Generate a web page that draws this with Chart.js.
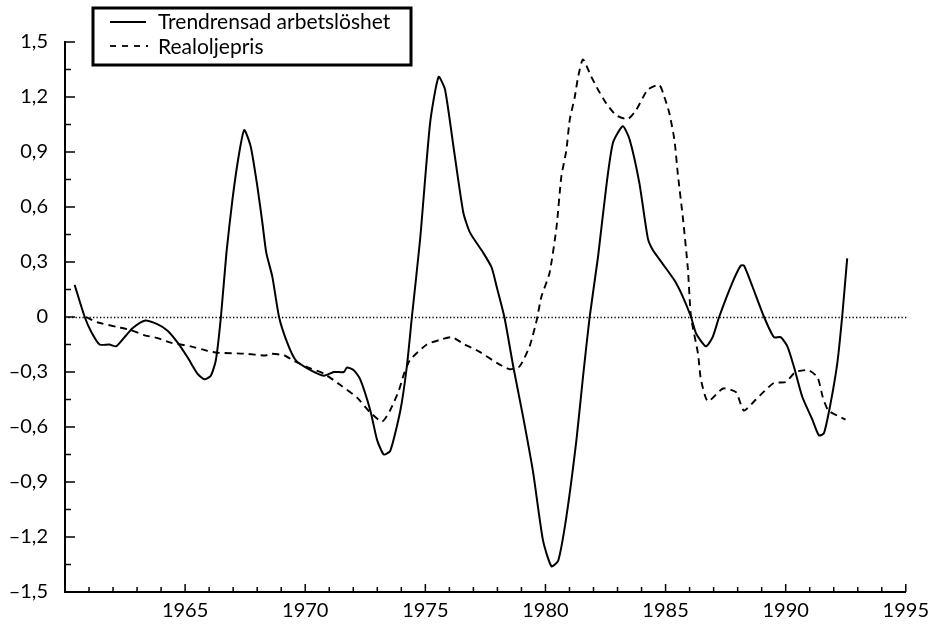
<!DOCTYPE html>
<html>
<head>
<meta charset="utf-8">
<script src="https://cdn.jsdelivr.net/npm/chart.js@4/dist/chart.umd.min.js"></script>
<style>
  html, body { margin: 0; padding: 0; background: #fff; }
  #wrap { width: 936px; height: 632px; }
</style>
</head>
<body>
<div id="wrap"><canvas id="chart" width="936" height="632"></canvas></div>
<script>
// Trendrensad arbetslöshet (solid)
var unempYears = [1960.40, 1960.82, 1961.09, 1961.44, 1961.85, 1962.13, 1962.48, 1962.82, 1963.31, 1963.86,
  1964.27, 1964.69, 1965.10, 1965.52, 1965.80, 1966.07, 1966.28, 1966.49, 1966.72, 1966.97,
  1967.22, 1967.46, 1967.73, 1968.01, 1968.22, 1968.38, 1968.63, 1968.91, 1969.25, 1969.60,
  1970.22, 1970.78, 1971.19, 1971.61, 1971.74, 1972.02, 1972.29, 1972.71, 1972.99, 1973.27,
  1973.54, 1973.96, 1974.23, 1974.44, 1974.78, 1975.20, 1975.55, 1975.82, 1976.17, 1976.58,
  1976.86, 1977.41, 1977.76, 1977.97, 1978.29, 1978.66, 1979.07, 1979.49, 1979.90, 1980.25,
  1980.53, 1980.87, 1981.29, 1981.56, 1981.84, 1982.19, 1982.53, 1982.81, 1983.22, 1983.50,
  1983.91, 1984.26, 1984.47, 1984.88, 1985.37, 1985.72, 1986.06, 1986.27, 1986.68, 1986.96,
  1987.23, 1987.79, 1988.13, 1988.27, 1988.62, 1989.10, 1989.51, 1989.79, 1990.07, 1990.34,
  1990.69, 1991.11, 1991.38, 1991.59, 1991.87, 1992.15, 1992.35, 1992.56];
var unempValues = [0.175, 0.00, -0.08, -0.15, -0.15, -0.16, -0.11, -0.06, -0.02, -0.04,
  -0.075, -0.14, -0.22, -0.31, -0.34, -0.32, -0.235, 0.00, 0.35, 0.64,
  0.87, 1.02, 0.93, 0.71, 0.51, 0.35, 0.22, 0.00, -0.14, -0.235,
  -0.29, -0.32, -0.30, -0.30, -0.275, -0.29, -0.34, -0.51, -0.67, -0.75,
  -0.73, -0.51, -0.27, 0.00, 0.42, 1.06, 1.31, 1.24, 0.93, 0.57,
  0.46, 0.35, 0.27, 0.165, 0.00, -0.27, -0.545, -0.85, -1.22, -1.36,
  -1.33, -1.09, -0.67, -0.33, 0.00, 0.33, 0.71, 0.95, 1.04, 0.97,
  0.73, 0.43, 0.365, 0.29, 0.20, 0.11, 0.00, -0.09, -0.16, -0.11,
  0.00, 0.19, 0.28, 0.28, 0.165, 0.00, -0.11, -0.11, -0.16, -0.27,
  -0.435, -0.56, -0.645, -0.635, -0.47, -0.25, 0.00, 0.32];

// Realoljepris (dashed)
var oilYears = [1960.87, 1961.37, 1962.20, 1962.70, 1963.32, 1963.86, 1964.40, 1965.23, 1965.93, 1966.35,
  1967.47, 1968.34, 1968.55, 1969.13, 1969.54, 1970.21, 1970.79, 1971.45, 1972.16, 1972.70,
  1973.20, 1973.53, 1973.90, 1974.11, 1974.36, 1975.06, 1975.60, 1976.10, 1976.64, 1977.26,
  1977.97, 1978.51, 1978.92, 1979.34, 1979.63, 1979.83, 1980.17, 1980.46, 1980.66, 1980.87,
  1981.01, 1981.22, 1981.36, 1981.56, 1981.91, 1982.19, 1982.53, 1982.95, 1983.43, 1983.78,
  1984.26, 1984.74, 1984.95, 1985.16, 1985.37, 1985.51, 1985.73, 1985.93, 1986.06, 1986.35,
  1986.47, 1986.76, 1987.39, 1987.93, 1988.26, 1988.76, 1989.50, 1990.00, 1990.41, 1990.95,
  1991.33, 1991.54, 1991.78, 1992.49];
var oilValues = [0.00, -0.03, -0.055, -0.07, -0.10, -0.115, -0.14, -0.16, -0.185, -0.195,
  -0.20, -0.21, -0.20, -0.21, -0.24, -0.28, -0.31, -0.37, -0.44, -0.52,
  -0.57, -0.51, -0.40, -0.31, -0.235, -0.15, -0.125, -0.11, -0.15, -0.19,
  -0.25, -0.285, -0.27, -0.16, -0.02, 0.11, 0.24, 0.49, 0.765, 0.91,
  1.075, 1.20, 1.31, 1.405, 1.31, 1.24, 1.165, 1.10, 1.08, 1.13,
  1.24, 1.265, 1.20, 1.11, 0.965, 0.78, 0.53, 0.26, 0.00, -0.20,
  -0.34, -0.46, -0.39, -0.41, -0.51, -0.45, -0.36, -0.355, -0.30, -0.29,
  -0.33, -0.435, -0.51, -0.56];

var seriesNames = ['Trendrensad arbetslöshet', 'Realoljepris'];
var xMin = 1960, xMax = 1995, yMin = -1.5, yMax = 1.5;

var FONT = 'Lato, "Open Sans", sans-serif';

function toPoints(xs, ys) {
  var pts = [];
  for (var i = 0; i < xs.length; i++) pts.push({x: xs[i], y: ys[i]});
  return pts;
}

function fmtY(v) {
  var r = Math.round(v * 10) / 10;
  if (r === 0) return '0';
  var s = Math.abs(r).toFixed(1).replace('.', ',');
  return r < 0 ? '\u2013' + s : s;
}

// dotted zero line across the plot
var zeroLine = {
  id: 'zeroLine',
  beforeDatasetsDraw: function (chart) {
    var ctx = chart.ctx, a = chart.chartArea;
    var py = Math.round(chart.scales.y.getPixelForValue(0)) + 0.5;
    ctx.save();
    ctx.strokeStyle = '#000';
    ctx.lineWidth = 1.4;
    ctx.setLineDash([1.3, 2.2]);
    ctx.beginPath(); ctx.moveTo(a.left, py); ctx.lineTo(a.right + 2, py); ctx.stroke();
    ctx.restore();
  }
};

// inward tick marks on both axes
var innerTicks = {
  id: 'innerTicks',
  afterDraw: function (chart) {
    var ctx = chart.ctx, a = chart.chartArea;
    var xs = chart.scales.x, ys = chart.scales.y;
    ctx.save();
    ctx.strokeStyle = '#000';
    ctx.lineWidth = 1.5;
    ys.ticks.forEach(function (t, i) {
      var py = ys.getPixelForValue(t.value);
      var len = (i % 2 === 0) ? 10 : 6;
      ctx.beginPath(); ctx.moveTo(a.left, py); ctx.lineTo(a.left + len, py); ctx.stroke();
    });
    xs.ticks.forEach(function (t) {
      var px = xs.getPixelForValue(t.value);
      var len = (Math.round(t.value) % 5 === 0) ? 8 : 5;
      ctx.beginPath(); ctx.moveTo(px, a.bottom); ctx.lineTo(px, a.bottom - len); ctx.stroke();
    });
    ctx.restore();
  }
};

// boxed legend in the top left corner
var boxLegend = {
  id: 'boxLegend',
  afterDraw: function (chart) {
    var ctx = chart.ctx;
    ctx.save();
    ctx.strokeStyle = '#000';
    ctx.lineWidth = 3;
    ctx.strokeRect(93, 8, 318, 57);
    ctx.lineWidth = 1.8;
    ctx.beginPath(); ctx.moveTo(110, 22); ctx.lineTo(146, 22); ctx.stroke();
    ctx.setLineDash([6, 6]);
    ctx.beginPath(); ctx.moveTo(110, 46); ctx.lineTo(148, 46); ctx.stroke();
    ctx.setLineDash([]);
    ctx.fillStyle = '#000';
    ctx.font = '21px ' + FONT;
    ctx.textBaseline = 'alphabetic';
    ctx.fillText(seriesNames[0], 158, 29);
    ctx.fillText(seriesNames[1], 158, 54);
    ctx.restore();
  }
};

new Chart('chart', {
  type: 'line',
  data: {
    datasets: [
      {
        label: seriesNames[0],
        data: toPoints(unempYears, unempValues),
        borderColor: '#000',
        borderWidth: 2,
        pointRadius: 0,
        tension: 0.2,
        fill: false
      },
      {
        label: seriesNames[1],
        data: toPoints(oilYears, oilValues),
        borderColor: '#000',
        borderWidth: 1.9,
        borderDash: [7, 5],
        pointRadius: 0,
        tension: 0.2,
        fill: false
      }
    ]
  },
  options: {
    responsive: false,
    animation: false,
    layout: { padding: { top: 42, right: 25, left: 0, bottom: 0 } },
    plugins: { legend: { display: false }, tooltip: { enabled: false } },
    scales: {
      x: {
        type: 'linear',
        min: xMin, max: xMax,
        afterFit: function (s) { s.height = 40; },
        border: { display: true, color: '#000', width: 2 },
        grid: { display: true, drawTicks: false, color: 'rgba(0,0,0,0)' },
        ticks: {
          stepSize: 1, autoSkip: false, maxRotation: 0, padding: 7,
          color: '#000', font: { family: FONT, size: 20 },
          callback: function (v) { return (v % 5 === 0 && v > xMin) ? String(v) : ''; }
        }
      },
      y: {
        min: yMin, max: yMax,
        afterFit: function (s) { s.width = 65; },
        border: { display: true, color: '#000', width: 2 },
        grid: { display: true, drawTicks: false, color: 'rgba(0,0,0,0)' },
        ticks: {
          stepSize: 0.15, autoSkip: false, padding: 17,
          color: '#000', font: { family: FONT, size: 20 },
          callback: function (v, i) { return i % 2 === 0 ? fmtY(v) : ''; }
        }
      }
    }
  },
  plugins: [zeroLine, innerTicks, boxLegend]
});
</script>
</body>
</html>
